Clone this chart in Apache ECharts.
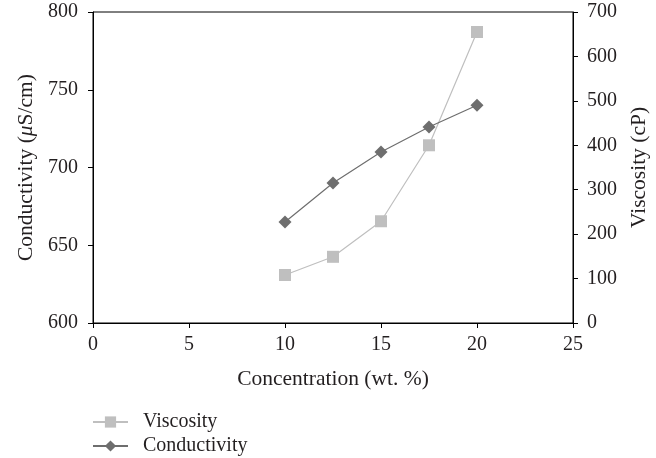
<!DOCTYPE html>
<html>
<head>
<meta charset="utf-8">
<script src="https://cdn.jsdelivr.net/npm/echarts@6/dist/echarts.min.js"></script>
<style>html,body{margin:0;padding:0;background:#fff}#main{width:656px;height:458px}</style>
</head>
<body>
<div id="main"></div>
<script>
var concentration = [10, 12.5, 15, 17.5, 20];
var viscosity = [108, 149, 229, 400, 655];
var conductivity = [665, 690, 710, 726, 740];
var xTicks = [0, 5, 10, 15, 20, 25];

var fnt = 'Liberation Serif';
var txt = '#231f20';
var chart = echarts.init(document.getElementById('main'));

function pairs(xs, ys){
  var out = [];
  for(var i=0;i<xs.length;i++){ out.push([xs[i], ys[i]]); }
  return out;
}

var axisCommon = {
  axisLine:{show:true, lineStyle:{color:'#000', width:1}},
  axisTick:{show:true, inside:false, length:5, lineStyle:{color:'#000'}},
  splitLine:{show:false},
  nameTextStyle:{color:txt, fontFamily:fnt, fontSize:21.5}
};

chart.setOption({
  animation:false,
  grid:{left:93, right:83, top:12, bottom:135, show:true, borderColor:'#000', borderWidth:1,
    outerBoundsMode:'none', containLabel:false},
  legend:{
    orient:'vertical', left:92, top:412, padding:0, itemGap:4, itemWidth:35, itemHeight:14,
    textStyle:{color:txt, fontFamily:fnt, fontSize:20, padding:[0,0,0,10]},
    data:['Viscosity','Conductivity']
  },
  xAxis:Object.assign({}, axisCommon, {
    type:'value', min:0, max:25, interval:5,
    name:'Concentration (wt. %)', nameLocation:'middle', nameGap:45,
    axisLabel:{color:txt, fontFamily:fnt, fontSize:20, margin:12,
      formatter:function(v){ return xTicks.indexOf(v) >= 0 ? String(v) : ''; }}
  }),
  yAxis:[
    Object.assign({}, axisCommon, {
      type:'value', min:600, max:800, interval:50, position:'left',
      name:'{n|Conductivity (}{i|μ}{n|S/cm)}', nameLocation:'middle', nameGap:56,
      nameTextStyle:{rich:{
        n:{fontFamily:fnt, fontSize:21.5, color:txt},
        i:{fontFamily:fnt, fontSize:21.5, color:txt, fontStyle:'italic'}
      }},
      axisLabel:{color:txt, fontFamily:fnt, fontSize:20, margin:15}
    }),
    Object.assign({}, axisCommon, {
      type:'value', min:0, max:700, interval:100, position:'right',
      name:'Viscosity (cP)', nameLocation:'middle', nameGap:53, nameRotate:90,
      axisLabel:{color:txt, fontFamily:fnt, fontSize:20, margin:14}
    })
  ],
  series:[
    {
      name:'Viscosity', type:'line', yAxisIndex:1,
      data:pairs(concentration, viscosity),
      symbol:'rect', symbolSize:12,
      lineStyle:{color:'#bfbfbf', width:1.2},
      itemStyle:{color:'#bfbfbf'}
    },
    {
      name:'Conductivity', type:'line', yAxisIndex:0,
      data:pairs(concentration, conductivity),
      symbol:'diamond', symbolSize:[13,13],
      lineStyle:{color:'#6e6e6e', width:1.2},
      itemStyle:{color:'#6e6e6e'}
    }
  ]
});
</script>
</body>
</html>
